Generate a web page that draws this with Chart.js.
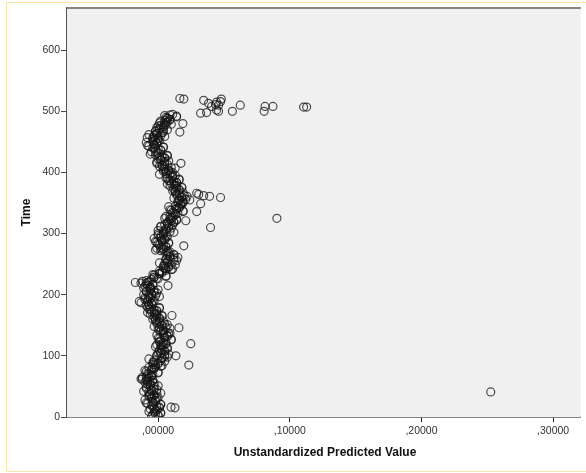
<!DOCTYPE html>
<html>
<head>
<meta charset="utf-8">
<script src="https://cdn.jsdelivr.net/npm/chart.js@4/dist/chart.umd.min.js"></script>
<style>
  html, body { margin: 0; padding: 0; background: #fff; overflow: hidden; }
  #wrap { position: relative; width: 586px; height: 473px; }
  #frame { position: absolute; left: 6px; top: 2px; width: 600px; height: 468px; border: 1.5px solid #f8e6a8; }
  canvas { position: absolute; left: 0; top: 0; }
</style>
</head>
<body>
<div id="wrap">
  <div id="frame"></div>
  <canvas id="scatter" width="586" height="473"></canvas>
</div>
<script>
// main band: time vs unstandardized predicted value
const bandTime = [
  1, 3, 5, 7, 9, 12, 14, 16, 18, 20,
  22, 24, 26, 28, 31, 33, 35, 37, 39, 41,
  43, 45, 47, 50, 52, 54, 56, 58, 60, 62,
  64, 66, 68, 70, 72, 74, 77, 79, 81, 83,
  85, 87, 89, 91, 93, 96, 98, 100, 102, 104,
  106, 108, 110, 113, 115, 117, 119, 121, 123, 126,
  128, 130, 132, 134, 136, 138, 141, 143, 145, 147,
  149, 151, 153, 156, 158, 160, 162, 164, 166, 168,
  170, 172, 174, 176, 178, 180, 183, 185, 187, 189,
  191, 193, 195, 197, 199, 201, 203, 205, 207, 209,
  211, 213, 215, 217, 219, 221, 223, 226, 228, 230,
  232, 234, 236, 239, 241, 243, 245, 247, 249, 251,
  253, 256, 258, 260, 262, 264, 266, 269, 271, 273,
  275, 277, 279, 281, 284, 286, 288, 290, 292, 294,
  296, 298, 300, 302, 304, 306, 309, 311, 313, 315,
  317, 319, 321, 323, 325, 327, 329, 332, 334, 336,
  338, 340, 342, 344, 346, 349, 351, 353, 355, 357,
  359, 361, 363, 366, 368, 370, 372, 374, 376, 378,
  380, 382, 384, 386, 388, 390, 392, 395, 397, 399,
  401, 403, 405, 407, 409, 411, 413, 415, 418, 420,
  422, 424, 426, 428, 430, 432, 435, 437, 439, 441,
  443, 445, 447, 449, 451, 453, 455, 457, 459, 461,
  463, 465, 467, 469, 471, 473, 475, 477, 479, 481,
  483, 485, 487, 489, 491, 493, 494, 495
];
const bandPredicted = [
  -0.005, 0.000, -0.002, 0.002, -0.007, -0.001, -0.003, 0.001, -0.004, 0.002,
  -0.008, -0.004, -0.002, -0.010, -0.001, -0.005, -0.003, -0.007, 0.002, -0.007,
  -0.005, -0.001, -0.009, -0.003, -0.006, -0.008, -0.006, -0.008, -0.004, -0.013,
  -0.007, -0.009, -0.005, -0.007, 0.000, -0.009, -0.005, -0.003, -0.007, 0.002,
  -0.002, 0.000, -0.004, 0.005, -0.003, 0.003, 0.007, -0.001, 0.005, 0.002,
  0.000, 0.005, 0.003, 0.007, -0.002, 0.004, 0.002, 0.006, 0.001, 0.010,
  0.001, 0.005, 0.007, -0.001, 0.008, 0.004, 0.004, 0.000, 0.009, 0.001,
  0.003, 0.007, -0.001, 0.001, -0.002, -0.004, 0.001, -0.001, 0.003, -0.006,
  -0.003, -0.005, -0.001, -0.006, 0.001, -0.008, -0.007, -0.005, -0.013, -0.004,
  -0.008, -0.006, -0.010, 0.001, -0.007, -0.005, -0.001, -0.009, -0.003, -0.006,
  -0.011, -0.006, -0.008, -0.004, -0.013, -0.007, -0.009, 0.000, -0.003, 0.006,
  -0.003, 0.001, 0.003, 0.001, 0.010, 0.006, 0.008, 0.004, 0.013, 0.005,
  0.007, 0.014, 0.006, 0.012, 0.009, 0.007, 0.012, 0.006, 0.007, -0.002,
  0.004, 0.002, 0.006, 0.001, 0.008, -0.001, 0.003, 0.005, -0.003, 0.006,
  0.002, 0.004, 0.000, 0.012, 0.004, 0.006, 0.010, 0.002, 0.008, 0.005,
  0.007, 0.012, 0.010, 0.014, 0.005, 0.011, 0.009, 0.013, 0.012, 0.019,
  0.010, 0.014, 0.016, 0.008, 0.017, 0.017, 0.019, 0.015, 0.024, 0.016,
  0.018, 0.022, 0.014, 0.016, 0.013, 0.011, 0.016, 0.014, 0.018, 0.009,
  0.012, 0.010, 0.014, 0.009, 0.016, 0.007, 0.011, 0.013, 0.001, 0.010,
  0.006, 0.008, 0.004, 0.013, 0.005, 0.003, 0.007, -0.001, 0.005, 0.002,
  0.000, 0.005, 0.003, 0.007, -0.006, 0.000, -0.002, 0.002, -0.003, 0.004,
  -0.007, -0.003, -0.001, -0.009, 0.000, -0.002, 0.000, -0.004, 0.005, -0.003,
  -0.001, 0.003, -0.002, 0.004, 0.001, -0.001, 0.004, 0.002, 0.010, 0.001,
  0.007, 0.005, 0.009, 0.007, 0.014, 0.005, 0.009, 0.011
];

// the remaining cases of the band (in-between time points)
const bandTime2 = [
  2, 4, 6, 8, 10, 13, 15, 17, 19, 21,
  23, 25, 27, 30, 32, 34, 36, 38, 40, 42,
  44, 46, 49, 51, 53, 55, 57, 59, 61, 63,
  65, 67, 69, 71, 73, 76, 78, 80, 82, 84,
  86, 88, 90, 92, 95, 97, 99, 101, 103, 105,
  107, 109, 112, 114, 116, 118, 120, 122, 125, 127,
  129, 131, 133, 135, 137, 140, 142, 144, 146, 148,
  150, 152, 155, 157, 159, 161, 163, 165, 167, 169,
  171, 173, 175, 177, 179, 182, 184, 186, 188, 190,
  192, 194, 196, 198, 200, 202, 204, 206, 208, 210,
  212, 214, 216, 218, 220, 222, 225, 227, 229, 231,
  233, 235, 238, 240, 242, 244, 246, 248, 250, 252,
  255, 257, 259, 261, 263, 265, 268, 270, 272, 274,
  276, 278, 280, 283, 285, 287, 289, 291, 293, 295,
  297, 299, 301, 303, 305, 308, 310, 312, 314, 316,
  318, 320, 322, 324, 326, 328, 331, 333, 335, 337,
  339, 341, 343, 345, 348, 350, 352, 354, 356, 358,
  360, 362, 365, 367, 369, 371, 373, 375, 377, 379,
  381, 383, 385, 387, 389, 391, 394, 396, 398, 400,
  402, 404, 406, 408, 410, 412, 414, 417, 419, 421,
  423, 425, 427, 429, 431, 434, 436, 438, 440, 442,
  444, 446, 448, 450, 452, 454, 456, 458, 460, 462,
  464, 466, 468, 470, 472, 474, 476, 478, 480, 482,
  484, 486, 488, 490, 492
];
const bandPredicted2 = [
  0.000, -0.004, 0.002, -0.003, -0.002, -0.006, 0.001, -0.001, -0.005, 0.002,
  -0.009, -0.004, -0.002, -0.005, 0.000, -0.007, -0.003, -0.006, -0.001, -0.011,
  -0.005, -0.003, -0.009, 0.000, -0.006, -0.003, -0.010, -0.004, -0.009, -0.008,
  -0.012, -0.005, -0.004, -0.008, 0.000, -0.010, -0.005, -0.003, -0.002, 0.003,
  -0.004, 0.000, -0.003, 0.002, -0.007, 0.003, 0.005, -0.001, 0.008, 0.002,
  0.005, 0.001, 0.007, 0.002, 0.003, -0.001, 0.006, 0.004, 0.002, 0.010,
  0.000, 0.005, 0.007, 0.004, 0.009, 0.002, 0.004, 0.001, 0.006, -0.003,
  0.003, 0.005, -0.001, 0.004, -0.002, 0.001, -0.003, 0.003, -0.002, -0.001,
  -0.008, -0.001, -0.003, -0.007, 0.001, -0.009, -0.007, -0.005, -0.008, -0.003,
  -0.010, -0.006, -0.007, -0.002, -0.011, -0.005, -0.003, -0.009, 0.000, -0.006,
  -0.006, -0.010, -0.004, -0.009, -0.008, -0.012, -0.005, -0.001, -0.003, 0.006,
  -0.004, 0.001, 0.003, 0.006, 0.011, 0.004, 0.008, 0.005, 0.010, 0.001,
  0.007, 0.012, 0.006, 0.015, 0.009, 0.012, 0.008, 0.009, 0.002, 0.003,
  -0.001, 0.006, 0.004, 0.000, 0.008, -0.002, 0.003, 0.005, 0.002, 0.007,
  0.000, 0.004, 0.004, 0.009, 0.000, 0.006, 0.008, 0.002, 0.011, 0.007,
  0.012, 0.008, 0.014, 0.009, 0.010, 0.006, 0.013, 0.015, 0.011, 0.019,
  0.009, 0.014, 0.016, 0.013, 0.018, 0.015, 0.019, 0.016, 0.021, 0.012,
  0.018, 0.020, 0.014, 0.019, 0.013, 0.016, 0.012, 0.018, 0.013, 0.014,
  0.007, 0.014, 0.012, 0.008, 0.016, 0.006, 0.011, 0.009, 0.006, 0.011,
  0.004, 0.008, 0.005, 0.010, 0.001, 0.003, 0.005, -0.001, 0.008, 0.002,
  0.005, 0.001, 0.007, -0.002, -0.001, -0.005, 0.002, 0.000, -0.004, 0.004,
  -0.008, -0.003, -0.001, -0.004, 0.001, -0.004, 0.000, -0.003, 0.002, -0.007,
  -0.001, 0.004, -0.002, 0.007, 0.001, 0.004, 0.000, 0.006, 0.005, 0.006,
  0.002, 0.009, 0.007, 0.006, 0.014
];

// scattered cases away from the band
const outlierTime = [
  521, 520, 518, 513, 515, 516, 520, 510, 508, 511,
  497, 498, 502, 500, 500, 510, 508, 508, 500, 507, 507,
  366, 364, 362, 361, 359, 349, 336, 310, 325, 280, 321,
  480, 466, 415, 166, 146, 120, 85, 100, 16, 15, 41, 215,
  220, 189, 62, 457
];
const outlierPredicted = [
  0.0165, 0.0195, 0.0346, 0.0383, 0.0444, 0.0474, 0.0480, 0.0459, 0.0406, 0.0436,
  0.0323, 0.0368, 0.0444, 0.0459, 0.0564, 0.0624, 0.0812, 0.0872, 0.0805, 0.1105, 0.1128,
  0.0293, 0.0308, 0.0346, 0.0391, 0.0474, 0.0323, 0.0293, 0.0398, 0.0902, 0.0195, 0.0210,
  0.0188, 0.0165, 0.0173, 0.0105, 0.0158, 0.0248, 0.0233, 0.0135, 0.0098, 0.0128, 0.2526, 0.0075,
  -0.0173, -0.0143, -0.0120, -0.0083
];

const xTickValues = [0, 0.1, 0.2, 0.3];
const xTickLabels = [',00000', ',10000', ',20000', ',30000'];
const yTickValues = [0, 100, 200, 300, 400, 500, 600];

const points = [];
bandTime.forEach((t, i) => points.push({ x: bandPredicted[i], y: t }));
bandTime2.forEach((t, i) => points.push({ x: bandPredicted2[i], y: t }));
outlierTime.forEach((t, i) => points.push({ x: outlierPredicted[i], y: t }));

const plotFrame = {
  id: 'plotFrame',
  beforeDatasetsDraw(chart) {
    const { ctx, chartArea: a } = chart;
    ctx.save();
    ctx.fillStyle = '#f0f0f0';
    ctx.fillRect(a.left, a.top, a.right - a.left, a.bottom - a.top);
    ctx.restore();
  },
  afterDraw(chart) {
    const { ctx, chartArea: a } = chart;
    ctx.save();
    ctx.strokeStyle = '#858585';
    ctx.lineWidth = 2;
    ctx.beginPath();
    ctx.moveTo(a.left, a.top);
    ctx.lineTo(a.right, a.top);
    ctx.stroke();

    ctx.fillStyle = '#111';
    ctx.font = 'bold 12px "Liberation Sans", Arial, sans-serif';
    ctx.textAlign = 'center';
    ctx.textBaseline = 'middle';
    ctx.fillText('Unstandardized Predicted Value', 325, 453);
    ctx.translate(27, (a.top + a.bottom) / 2);
    ctx.rotate(-Math.PI / 2);
    ctx.fillText('Time', 0, 0);
    ctx.restore();
  }
};

new Chart(document.getElementById('scatter'), {
  type: 'scatter',
  data: {
    datasets: [{
      data: points,
      pointRadius: 4,
      pointHoverRadius: 4,
      pointBorderWidth: 1.2,
      pointBorderColor: 'rgba(20,20,20,0.75)',
      pointBackgroundColor: 'rgba(0,0,0,0)'
    }]
  },
  options: {
    responsive: false,
    animation: false,
    layout: { padding: { left: 0, top: 8, right: 0, bottom: 0 } },
    plugins: { legend: { display: false }, tooltip: { enabled: false } },
    scales: {
      x: {
        type: 'linear',
        min: -0.0692,
        max: 0.321,
        afterFit(scale) { scale.height = 56; },
        afterBuildTicks(scale) { scale.ticks = xTickValues.map(v => ({ value: v })); },
        grid: { drawOnChartArea: false, drawTicks: true, tickLength: 5, color: '#222' },
        border: { display: true, color: '#111', width: 1.5 },
        ticks: {
          padding: 3,
          color: '#333',
          font: { family: '"Liberation Sans", Arial, sans-serif', size: 10.5 },
          callback: (v) => xTickLabels[xTickValues.indexOf(v)],
          maxRotation: 0
        }
      },
      y: {
        type: 'linear',
        min: 0,
        max: 669,
        afterFit(scale) { scale.width = 67; },
        afterBuildTicks(scale) { scale.ticks = yTickValues.map(v => ({ value: v })); },
        grid: { drawOnChartArea: false, drawTicks: true, tickLength: 6, color: '#444' },
        border: { display: true, color: '#555', width: 1.5 },
        ticks: {
          padding: 1,
          color: '#333',
          font: { family: '"Liberation Sans", Arial, sans-serif', size: 10.5 }
        }
      }
    }
  },
  plugins: [plotFrame]
});
</script>
</body>
</html>
